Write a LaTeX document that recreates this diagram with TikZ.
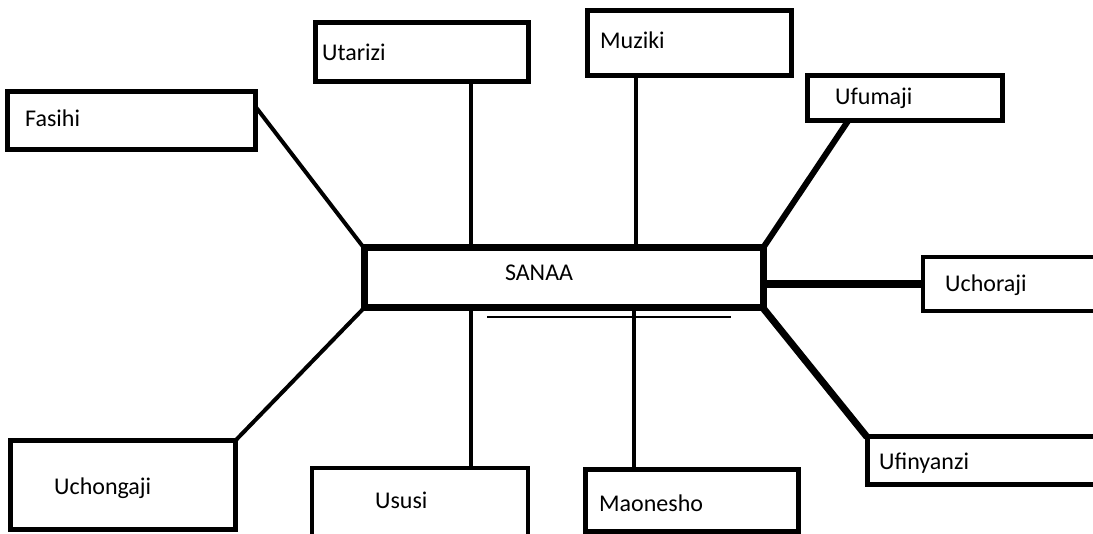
\documentclass[tikz,border=0pt]{standalone}
\usepackage{fontspec}
\setmainfont{Carlito}
\usetikzlibrary{calc}
\begin{document}
\begin{tikzpicture}[x=1pt,y=-1pt,
  box/.style={draw=black, line width=#1, fill=white, inner sep=0pt, outer sep=0pt, rectangle},
  box/.default=5pt,
  lbl/.style={font=\fontsize{24}{26}\selectfont, anchor=west, inner sep=0pt, text=black},
  conn/.style={draw=black, line width=#1},
  conn/.default=4pt]
\clip (0,0) rectangle (1093,534);
\fill[white] (0,0) rectangle (1093,534);
% boxes
\node[box=5pt, minimum width=248pt, minimum height=58pt] (fas) at (131,121) {};
\node[box=5pt, minimum width=213pt, minimum height=59pt] (uta) at (421.5,52.5) {};
\node[box=5pt, minimum width=204pt, minimum height=65pt] (muz) at (689,43.5) {};
\node[box=5pt, minimum width=195pt, minimum height=45pt] (ufu) at (904.5,98.5) {};
\node[box=7pt, minimum width=399pt, minimum height=60pt] (san) at (563.5,278) {};
\node[box=4pt, minimum width=187pt, minimum height=54pt] (uch) at (1016.5,284) {};
\node[box=5pt, minimum width=243pt, minimum height=48pt] (ufi) at (988.5,461) {};
\node[box=5pt, minimum width=225pt, minimum height=88pt] (uchg) at (122.5,485) {};
\node[box=4pt, minimum width=216pt, minimum height=92pt] (usu) at (420,514) {};
\node[box=5pt, minimum width=213pt, minimum height=61pt] (mao) at (691.5,500.5) {};
% labels
\node[lbl] (tfas) at (25,118) {Fasihi};
\node[lbl] (tuta) at (322,52) {Utarizi};
\node[lbl] (tmuz) at (600,40) {Muziki};
\node[lbl] (tufu) at (835,98) {Ufumaji};
\node[lbl, anchor=center] (tsan) at (539,273) {SANAA};
\node[lbl] (tuch) at (945,285) {Uchoraji};
\node[lbl] (tufi) at (879,463) {Ufinyanzi};
\node[lbl] (tuchg) at (54,488) {Uchongaji};
\node[lbl] (tusu) at (375,500) {Ususi};
\node[lbl] (tmao) at (599,503) {Maonesho};
% connector points
\coordinate (pfas) at ($(fas.north east)+(0,14)$);
\coordinate (puta) at ($(uta.south west)+(156,0)$);
\coordinate (pmuz) at ($(muz.south west)+(49,0)$);
\coordinate (pufu) at ($(ufu.south west)+(41,0)$);
\coordinate (pusu) at ($(usu.north west)+(159,0)$);
\coordinate (pmao) at ($(mao.north west)+(49,0)$);
\coordinate (ula) at (487,317);
\coordinate (ulb) at (731,317);
% connectors
\draw[conn=4pt] (pfas) -- (san.north west);
\draw[conn=4pt] (puta) -- (puta |- san.north);
\draw[conn=4pt] (pmuz) -- (pmuz |- san.north);
\draw[conn=6pt] (pufu) -- (san.north east);
\draw[conn=8pt] (uch.west) -- (uch.west -| san.east);
\draw[conn=7pt] (san.south east) -- (ufi.north west);
\draw[conn=4pt] (san.south west) -- (uchg.north east);
\draw[conn=4pt] (pusu) -- (pusu |- san.south);
\draw[conn=4pt] (pmao) -- (pmao |- san.south);
\draw[conn=2.5pt] (ula) -- (ulb);
\end{tikzpicture}
\end{document}
